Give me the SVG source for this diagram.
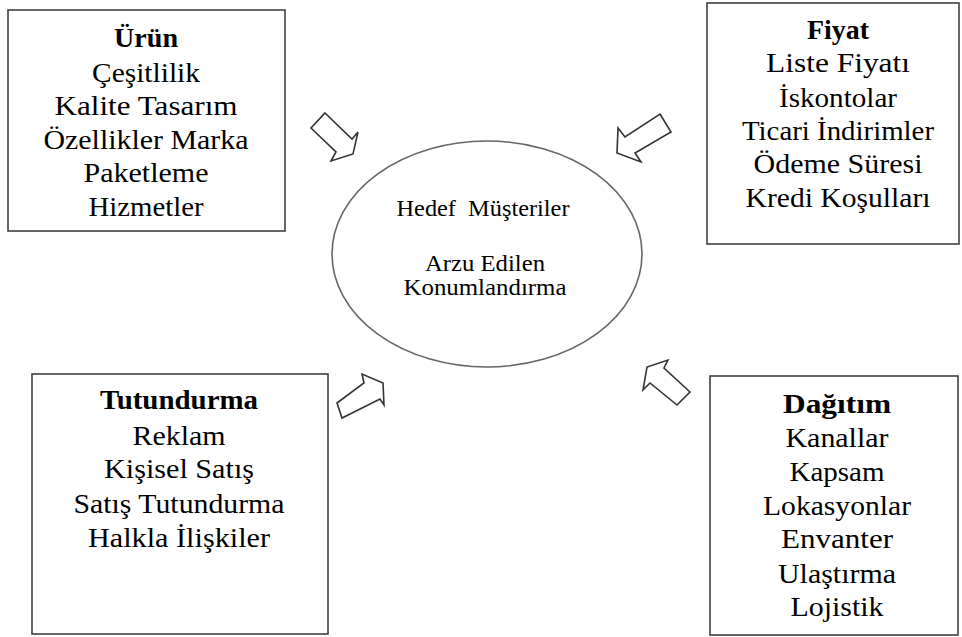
<svg xmlns="http://www.w3.org/2000/svg" width="962" height="637" viewBox="0 0 962 637">
<style>
.box{fill:#fff;stroke:#404040;stroke-width:1.6}
text{font-family:'Liberation Serif','Times New Roman',Tinos,serif;fill:#000;text-anchor:middle}
.t{font-size:27px}
.b{font-weight:bold}
.e{font-size:24px}
.arr{fill:#fff;stroke:#333;stroke-width:1.6;stroke-linejoin:miter}
</style>
<rect width="962" height="637" fill="#fff"/>
<g id="urun">
<rect class="box" x="8" y="10" width="277" height="221"/>
<text class="t b" x="146" y="47" textLength="64" lengthAdjust="spacingAndGlyphs">Ürün</text>
<text class="t" x="146" y="82" textLength="108" lengthAdjust="spacingAndGlyphs">Çeşitlilik</text>
<text class="t" x="146" y="115" textLength="183" lengthAdjust="spacingAndGlyphs">Kalite Tasarım</text>
<text class="t" x="146" y="149" textLength="205" lengthAdjust="spacingAndGlyphs">Özellikler Marka</text>
<text class="t" x="146" y="182" textLength="125" lengthAdjust="spacingAndGlyphs">Paketleme</text>
<text class="t" x="146" y="216" textLength="115" lengthAdjust="spacingAndGlyphs">Hizmetler</text>
</g>
<g id="fiyat">
<rect class="box" x="707" y="3" width="252" height="241"/>
<text class="t b" x="838" y="39" textLength="62" lengthAdjust="spacingAndGlyphs">Fiyat</text>
<text class="t" x="838" y="72" textLength="144" lengthAdjust="spacingAndGlyphs">Liste Fiyatı</text>
<text class="t" x="838" y="107" textLength="118" lengthAdjust="spacingAndGlyphs">İskontolar</text>
<text class="t" x="838" y="140" textLength="192" lengthAdjust="spacingAndGlyphs">Ticari İndirimler</text>
<text class="t" x="838" y="173" textLength="169" lengthAdjust="spacingAndGlyphs">Ödeme Süresi</text>
<text class="t" x="838" y="207" textLength="185" lengthAdjust="spacingAndGlyphs">Kredi Koşulları</text>
</g>
<g id="tutundurma">
<rect class="box" x="32" y="374" width="296" height="260"/>
<text class="t b" x="179" y="409" textLength="158" lengthAdjust="spacingAndGlyphs">Tutundurma</text>
<text class="t" x="179" y="445" textLength="93" lengthAdjust="spacingAndGlyphs">Reklam</text>
<text class="t" x="179" y="478" textLength="150" lengthAdjust="spacingAndGlyphs">Kişisel Satış</text>
<text class="t" x="179" y="513" textLength="211" lengthAdjust="spacingAndGlyphs">Satış Tutundurma</text>
<text class="t" x="179" y="547" textLength="182" lengthAdjust="spacingAndGlyphs">Halkla İlişkiler</text>
</g>
<g id="dagitim">
<rect class="box" x="710" y="376" width="248" height="259"/>
<text class="t b" x="837" y="413" textLength="108" lengthAdjust="spacingAndGlyphs">Dağıtım</text>
<text class="t" x="837" y="447" textLength="103" lengthAdjust="spacingAndGlyphs">Kanallar</text>
<text class="t" x="837" y="481" textLength="95" lengthAdjust="spacingAndGlyphs">Kapsam</text>
<text class="t" x="837" y="515" textLength="148" lengthAdjust="spacingAndGlyphs">Lokasyonlar</text>
<text class="t" x="837" y="548" textLength="112" lengthAdjust="spacingAndGlyphs">Envanter</text>
<text class="t" x="837" y="583" textLength="118" lengthAdjust="spacingAndGlyphs">Ulaştırma</text>
<text class="t" x="837" y="616" textLength="93" lengthAdjust="spacingAndGlyphs">Lojistik</text>
</g>
<g id="hedef">
<ellipse cx="487" cy="254" rx="155" ry="113" fill="#fff" stroke="#666" stroke-width="1.6"/>
<text class="e" x="483" y="216" xml:space="preserve" textLength="173" lengthAdjust="spacingAndGlyphs">Hedef  Müşteriler</text>
<text class="e" x="485" y="271" textLength="120" lengthAdjust="spacingAndGlyphs">Arzu Edilen</text>
<text class="e" x="485" y="295" textLength="163" lengthAdjust="spacingAndGlyphs">Konumlandırma</text>
</g>
<g id="connectors">
<polygon class="arr" points="325,113 352,139 358,132 353,154 331,161 336,152 311,128"/>
<polygon class="arr" points="660,114 671,132 635,153 641,162 617,153 618,128 625,137"/>
<polygon class="arr" points="337,403 364,383 362,374 383,383 384,405 380,399 342,418"/>
<polygon class="arr" points="690,392 664,368 668,360 647,367 643,390 650,383 677,405"/>
</g>
</svg>
